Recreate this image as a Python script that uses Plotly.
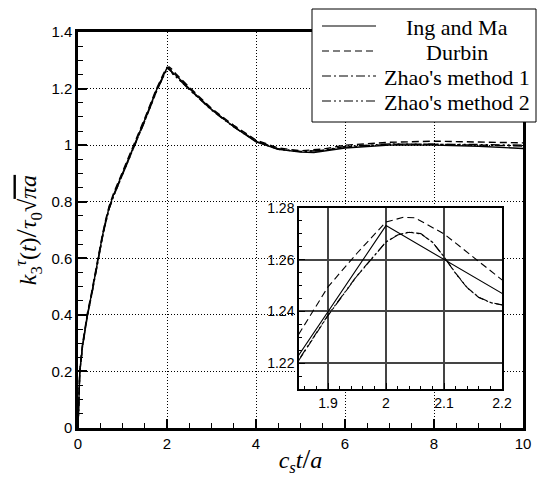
import plotly.graph_objects as go

# ---- data ----
t_ing = [0, 0.02, 0.04, 0.1, 0.21, 0.3, 0.445, 0.55, 0.62, 0.7, 0.8, 1.0, 1.25, 1.5, 1.75,
         2.0, 2.2, 2.5, 3.0, 3.5, 4.0, 4.5, 5.0, 5.3, 6.0, 7.0, 8.0, 9.0, 10.0]
k_ing = [0, 0.15, 0.20, 0.29, 0.40, 0.47, 0.60, 0.68, 0.73, 0.78, 0.825, 0.90, 0.995, 1.09, 1.19,
         1.2732, 1.247, 1.200, 1.127, 1.065, 1.012, 0.985, 0.976, 0.974, 0.990, 1.000, 1.000,
         0.996, 0.988]

t_durbin = [0, 0.02, 0.04, 0.1, 0.21, 0.3, 0.445, 0.55, 0.62, 0.7, 0.8, 1.0, 1.25, 1.5, 1.75,
            1.85, 1.9, 1.95, 2.0, 2.03, 2.05, 2.1, 2.15, 2.2, 2.5, 3.0, 3.5, 4.0, 4.5, 5.0,
            5.5, 6.0, 7.0, 8.0, 9.0, 10.0]
k_durbin = [0, 0.155, 0.205, 0.295, 0.405, 0.475, 0.605, 0.685, 0.735, 0.785, 0.83, 0.905, 1.0,
            1.095, 1.195, 1.231, 1.2495, 1.2625, 1.2746, 1.2764, 1.2762, 1.2700, 1.2610, 1.2522,
            1.205, 1.130, 1.070, 1.018, 0.990, 0.980, 0.986, 1.000, 1.010, 1.014, 1.011, 1.008]

t_zhao = [0, 0.02, 0.04, 0.1, 0.21, 0.3, 0.445, 0.55, 0.62, 0.7, 0.8, 1.0, 1.25, 1.5, 1.75,
          1.85, 1.9, 1.95, 2.0, 2.02, 2.04, 2.06, 2.08, 2.1, 2.12, 2.14, 2.16, 2.18, 2.2, 2.5,
          3.0, 3.5, 4.0, 4.5, 5.0, 5.5, 6.0, 7.0, 8.0, 9.0, 10.0]
k_zhao1 = [0, 0.145, 0.195, 0.285, 0.395, 0.465, 0.595, 0.675, 0.725, 0.775, 0.82, 0.895, 0.99,
           1.085, 1.185, 1.2212, 1.2384, 1.2537, 1.2668, 1.2695, 1.2706, 1.2700, 1.2668, 1.2612,
           1.2548, 1.2492, 1.2455, 1.2435, 1.2426, 1.198, 1.125, 1.066, 1.015, 0.987, 0.978,
           0.981, 0.993, 1.003, 1.003, 1.000, 0.997]
k_zhao2 = [0, 0.145, 0.195, 0.285, 0.395, 0.465, 0.595, 0.675, 0.725, 0.775, 0.82, 0.895, 0.99,
           1.085, 1.185, 1.2214, 1.2386, 1.2538, 1.2669, 1.2696, 1.2707, 1.2701, 1.2668, 1.2611,
           1.2547, 1.2491, 1.2454, 1.2434, 1.2425, 1.197, 1.124, 1.064, 1.013, 0.985, 0.977,
           0.982, 0.995, 1.004, 1.004, 1.002, 1.000]

names = ["Ing and Ma", "Durbin", "Zhao's method 1", "Zhao's method 2"]
series = [(t_ing, k_ing), (t_durbin, k_durbin), (t_zhao, k_zhao1), (t_zhao, k_zhao2)]
dashes = ["solid", "7px,4px", "9px,3px,2px,3px", "9px,3px,2px,3px,2px,3px"]

x_ticks = [0, 2, 4, 6, 8, 10]
y_ticks = [0, 0.2, 0.4, 0.6, 0.8, 1.0, 1.2, 1.4]
x2_ticks = [1.9, 2.0, 2.1, 2.2]
x2_text = ["1.9", "2", "2.1", "2.2"]
y2_ticks = [1.22, 1.24, 1.26, 1.28]

fig = go.Figure()
for (tx, ky), nm, d in zip(series, names, dashes):
    fig.add_trace(go.Scatter(x=tx, y=ky, mode="lines", name=nm, showlegend=False,
                             line=dict(color="black", width=1.4, dash=d),
                             xaxis="x", yaxis="y"))
for (tx, ky), nm, d in zip(series, names, dashes):
    fig.add_trace(go.Scatter(x=tx, y=ky, mode="lines", name=nm, showlegend=False,
                             line=dict(color="black", width=1.1, dash=d),
                             xaxis="x2", yaxis="y2"))

sans = "Liberation Sans, Arial, sans-serif"
serif = "Liberation Serif, Times New Roman, serif"

W, H = 537, 477
ml, mr, mt, mb = 78, 14, 32, 49
pw, ph = W - ml - mr, H - mt - mb

def px_x(p):
    return (p - ml) / pw

def px_y(p):
    return (H - mb - p) / ph

# ---- legend box drawn in paper space ----
shapes = [dict(type="rect", xref="paper", yref="paper", layer="above",
               x0=px_x(312), x1=px_x(536), y0=px_y(122), y1=px_y(9),
               fillcolor="white", line=dict(color="black", width=1))]
annotations = []
row_y = [26, 51, 76, 101]
for nm, d, ry in zip(names, dashes, row_y):
    shapes.append(dict(type="line", xref="paper", yref="paper", layer="above",
                       x0=px_x(322), x1=px_x(376), y0=px_y(ry), y1=px_y(ry),
                       line=dict(color="black", width=1.2, dash=d)))
    annotations.append(dict(text=nm, xref="paper", yref="paper", showarrow=False,
                            x=px_x(457), y=px_y(ry + 1), xanchor="center", yanchor="middle",
                            font=dict(family=serif, size=22, color="black")))

fig.update_layout(
    width=W, height=H,
    margin=dict(l=ml, r=mr, t=mt, b=mb, pad=0, autoexpand=False),
    paper_bgcolor="white", plot_bgcolor="white",
    font=dict(family=sans, size=15, color="black"),
    showlegend=False,
    shapes=shapes, annotations=annotations,
    xaxis=dict(domain=[0, 1], range=[0, 10], tickvals=x_ticks, ticks="inside",
               ticklen=9, tickwidth=2, tickcolor="black", showline=True, linewidth=2.5,
               linecolor="black", mirror=True, showgrid=True, gridcolor="black",
               gridwidth=1, griddash="1px,2px", zeroline=False,
               minor=dict(dtick=0.5, ticks="inside", ticklen=5, tickwidth=1.2,
                          tickcolor="black", showgrid=False),
               tickfont=dict(family=sans, size=15),
               title=dict(text="<i>c<sub>s</sub>t</i><span style='font-size:28px'>/</span><i>a</i>",
                          font=dict(family=serif, size=24), standoff=2)),
    yaxis=dict(domain=[0, 1], range=[0, 1.4], tickvals=y_ticks, ticks="inside",
               ticklen=9, tickwidth=2, tickcolor="black", showline=True, linewidth=2.5,
               linecolor="black", mirror=True, showgrid=True, gridcolor="black",
               gridwidth=1, griddash="1px,2px", zeroline=False,
               minor=dict(dtick=0.05, ticks="inside", ticklen=5, tickwidth=1.2,
                          tickcolor="black", showgrid=False),
               tickfont=dict(family=sans, size=15),
               title=dict(text="<i>k</i><sub>3</sub><sup><i>τ</i></sup>(<i>t</i>)"
                               "<span style='font-size:30px'>/</span><i>τ</i><sub>0</sub>"
                               "√<span style='text-decoration:overline'><i>πa</i></span>",
                          font=dict(family=serif, size=24), standoff=8)),
    xaxis2=dict(domain=[px_x(299), px_x(502)], anchor="y2", range=[1.85, 2.2],
                tickvals=x2_ticks, ticktext=x2_text, ticks="inside", ticklen=6, tickwidth=1.2,
                tickcolor="black", showline=True, linewidth=1.5, linecolor="black",
                mirror=True, showgrid=True, gridcolor="#444", gridwidth=1.5, zeroline=False,
                minor=dict(dtick=0.02, ticks="inside", ticklen=3, tickwidth=1,
                           tickcolor="black", showgrid=False),
                tickfont=dict(family=sans, size=14)),
    yaxis2=dict(domain=[px_y(389), px_y(208)], anchor="x2", range=[1.21, 1.28],
                tickvals=y2_ticks, ticks="inside", ticklen=6, tickwidth=1.2,
                tickcolor="black", showline=True, linewidth=1.5, linecolor="black",
                mirror=True, showgrid=True, gridcolor="#444", gridwidth=1.5, zeroline=False,
                minor=dict(dtick=0.005, ticks="inside", ticklen=3, tickwidth=1,
                           tickcolor="black", showgrid=False),
                tickfont=dict(family=sans, size=14)),
)

fig.write_html("out.html")
